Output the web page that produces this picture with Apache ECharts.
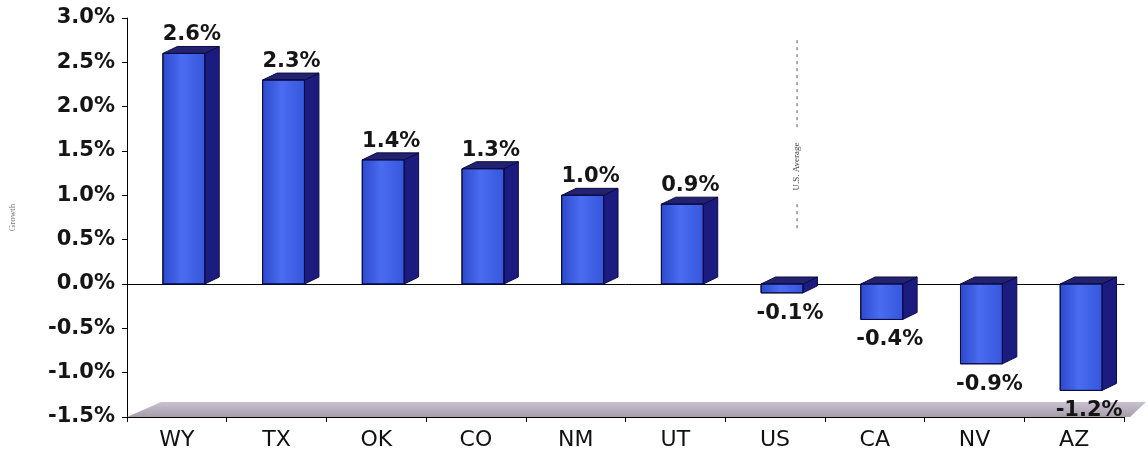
<!DOCTYPE html>
<html>
<head>
<meta charset="utf-8">
<title>Growth by State</title>
<script src="https://cdn.jsdelivr.net/npm/echarts@6/dist/echarts.min.js"></script>
<style>
  html, body { margin: 0; padding: 0; background: #ffffff; }
  #chart { width: 1148px; height: 455px; }
</style>
</head>
<body>
<div id="chart"></div>
<script>
// Year-over-year growth by state
const categories = ['WY', 'TX', 'OK', 'CO', 'NM', 'UT', 'US', 'CA', 'NV', 'AZ'];
const growth = [2.6, 2.3, 1.4, 1.3, 1.0, 0.9, -0.1, -0.4, -0.9, -1.2];
const yMin = -1.5;
const yMax = 3.0;
const yStep = 0.5;
const averageLabel = 'U.S. Average';

const fmtPct = v => v.toFixed(1) + '%';

const chart = echarts.init(document.getElementById('chart'), null, { renderer: 'canvas' });

// 3D-style block: front face, right side, top face, plus value label
function renderBlock(params, api) {
  const idx = api.value(0);
  const v = api.value(1);
  const base = api.coord([idx, 0]);
  const end = api.coord([idx, v]);
  const band = api.size([1, 0])[0];
  const cx = base[0];
  const fx = cx - band * 0.14;
  const fw = band * 0.42;
  const dx = band * 0.145;
  const dy = 7;
  const top = Math.min(base[1], end[1]);
  const bot = Math.max(base[1], end[1]);
  const stroke = '#0b0b45';
  const labelX = cx + band * 0.15;
  return {
    type: 'group',
    children: [
      {
        type: 'polygon',
        shape: { points: [[fx + fw, top], [fx + fw + dx, top - dy], [fx + fw + dx, bot - dy], [fx + fw, bot]] },
        style: { fill: '#1b1b80', stroke: stroke, lineWidth: 1 }
      },
      {
        type: 'polygon',
        shape: { points: [[fx, top], [fx + dx, top - dy], [fx + fw + dx, top - dy], [fx + fw, top]] },
        style: { fill: '#22226f', stroke: stroke, lineWidth: 1 }
      },
      {
        type: 'rect',
        shape: { x: fx, y: top, width: fw, height: bot - top },
        style: {
          fill: new echarts.graphic.LinearGradient(0, 0, 1, 0, [
            { offset: 0, color: '#2c49cc' },
            { offset: 0.45, color: '#4a6cf0' },
            { offset: 1, color: '#3656dc' }
          ]),
          stroke: stroke,
          lineWidth: 1
        }
      },
      {
        type: 'text',
        z2: 10,
        style: {
          text: fmtPct(v),
          x: labelX,
          y: v >= 0 ? top - dy - 1 : bot + 10,
          textAlign: 'center',
          textVerticalAlign: v >= 0 ? 'bottom' : 'top',
          fontFamily: 'DejaVu Sans',
          fontWeight: 'bold',
          fontSize: 21,
          fill: '#151515'
        }
      }
    ]
  };
}

// Grey floor slab along the bottom of the plot
function renderFloor(params, api) {
  const cs = params.coordSys;
  const y = api.coord([0, yMin])[1];
  const x0 = cs.x;
  const x1 = cs.x + cs.width;
  return {
    type: 'polygon',
    shape: { points: [[x0, y], [x0 + 34, y - 15], [x1 + 22, y - 15], [x1 + 6, y]] },
    style: {
      fill: new echarts.graphic.LinearGradient(0, 0, 0, 1, [
        { offset: 0, color: '#c9c1d2' },
        { offset: 1, color: '#a79eaa' }
      ])
    }
  };
}

chart.setOption({
  backgroundColor: '#ffffff',
  animation: false,
  grid: { left: 127, right: 24, top: 18, bottom: 38, containLabel: false },
  xAxis: [
    {
      type: 'category',
      data: categories,
      position: 'bottom',
      axisLine: { onZero: false, lineStyle: { color: '#000', width: 1 } },
      axisTick: { show: true, alignWithLabel: false, length: 5, lineStyle: { color: '#000' } },
      axisLabel: { fontFamily: 'DejaVu Sans', fontSize: 22, color: '#111', margin: 12 },
      splitLine: { show: false }
    },
    {
      type: 'category',
      data: categories,
      position: 'top',
      axisLine: { onZero: true, lineStyle: { color: '#000', width: 1 } },
      axisTick: { show: false },
      axisLabel: { show: false },
      splitLine: { show: false }
    }
  ],
  yAxis: {
    type: 'value',
    min: yMin,
    max: yMax,
    interval: yStep,
    name: 'Growth',
    nameLocation: 'middle',
    nameRotate: 90,
    nameGap: 110,
    nameTextStyle: { fontFamily: 'Liberation Serif', fontSize: 9, color: '#777' },
    axisLine: { show: true, lineStyle: { color: '#000', width: 1 } },
    axisTick: { show: true, length: 5, lineStyle: { color: '#000' } },
    axisLabel: {
      formatter: fmtPct,
      fontFamily: 'DejaVu Sans',
      fontWeight: 'bold',
      fontSize: 21,
      color: '#151515',
      margin: 12
    },
    splitLine: { show: false }
  },
  series: [
    {
      name: 'floor',
      type: 'custom',
      clip: false,
      silent: true,
      z: 1,
      renderItem: renderFloor,
      data: [[0, yMin]]
    },
    {
      name: 'Growth',
      type: 'custom',
      clip: false,
      z: 3,
      renderItem: renderBlock,
      encode: { x: 0, y: 1 },
      data: growth.map((v, i) => [i, v])
    }
  ]
});

// Dashed vertical marker for the national average, just right of the US block
const usX = chart.convertToPixel({ xAxisIndex: 0 }, 'US');
const markX = usX + 22;
const yTop = chart.convertToPixel({ yAxisIndex: 0 }, 2.75);
const yBot = chart.convertToPixel({ yAxisIndex: 0 }, 0.6);
const yMidLow = chart.convertToPixel({ yAxisIndex: 0 }, 0.9);
const yMidHigh = chart.convertToPixel({ yAxisIndex: 0 }, 1.75);
chart.setOption({
  graphic: [
    {
      type: 'line',
      silent: true,
      shape: { x1: markX, y1: yTop, x2: markX, y2: yMidHigh },
      style: { stroke: '#555', lineWidth: 1, lineDash: [3, 4] }
    },
    {
      type: 'line',
      silent: true,
      shape: { x1: markX, y1: yMidLow, x2: markX, y2: yBot },
      style: { stroke: '#555', lineWidth: 1, lineDash: [3, 4] }
    },
    {
      type: 'text',
      silent: true,
      x: markX,
      y: (yMidLow + yMidHigh) / 2,
      rotation: Math.PI / 2,
      style: {
        text: averageLabel,
        textAlign: 'center',
        textVerticalAlign: 'middle',
        fontFamily: 'Liberation Serif',
        fontSize: 9,
        fill: '#444'
      }
    }
  ]
});
</script>
</body>
</html>
